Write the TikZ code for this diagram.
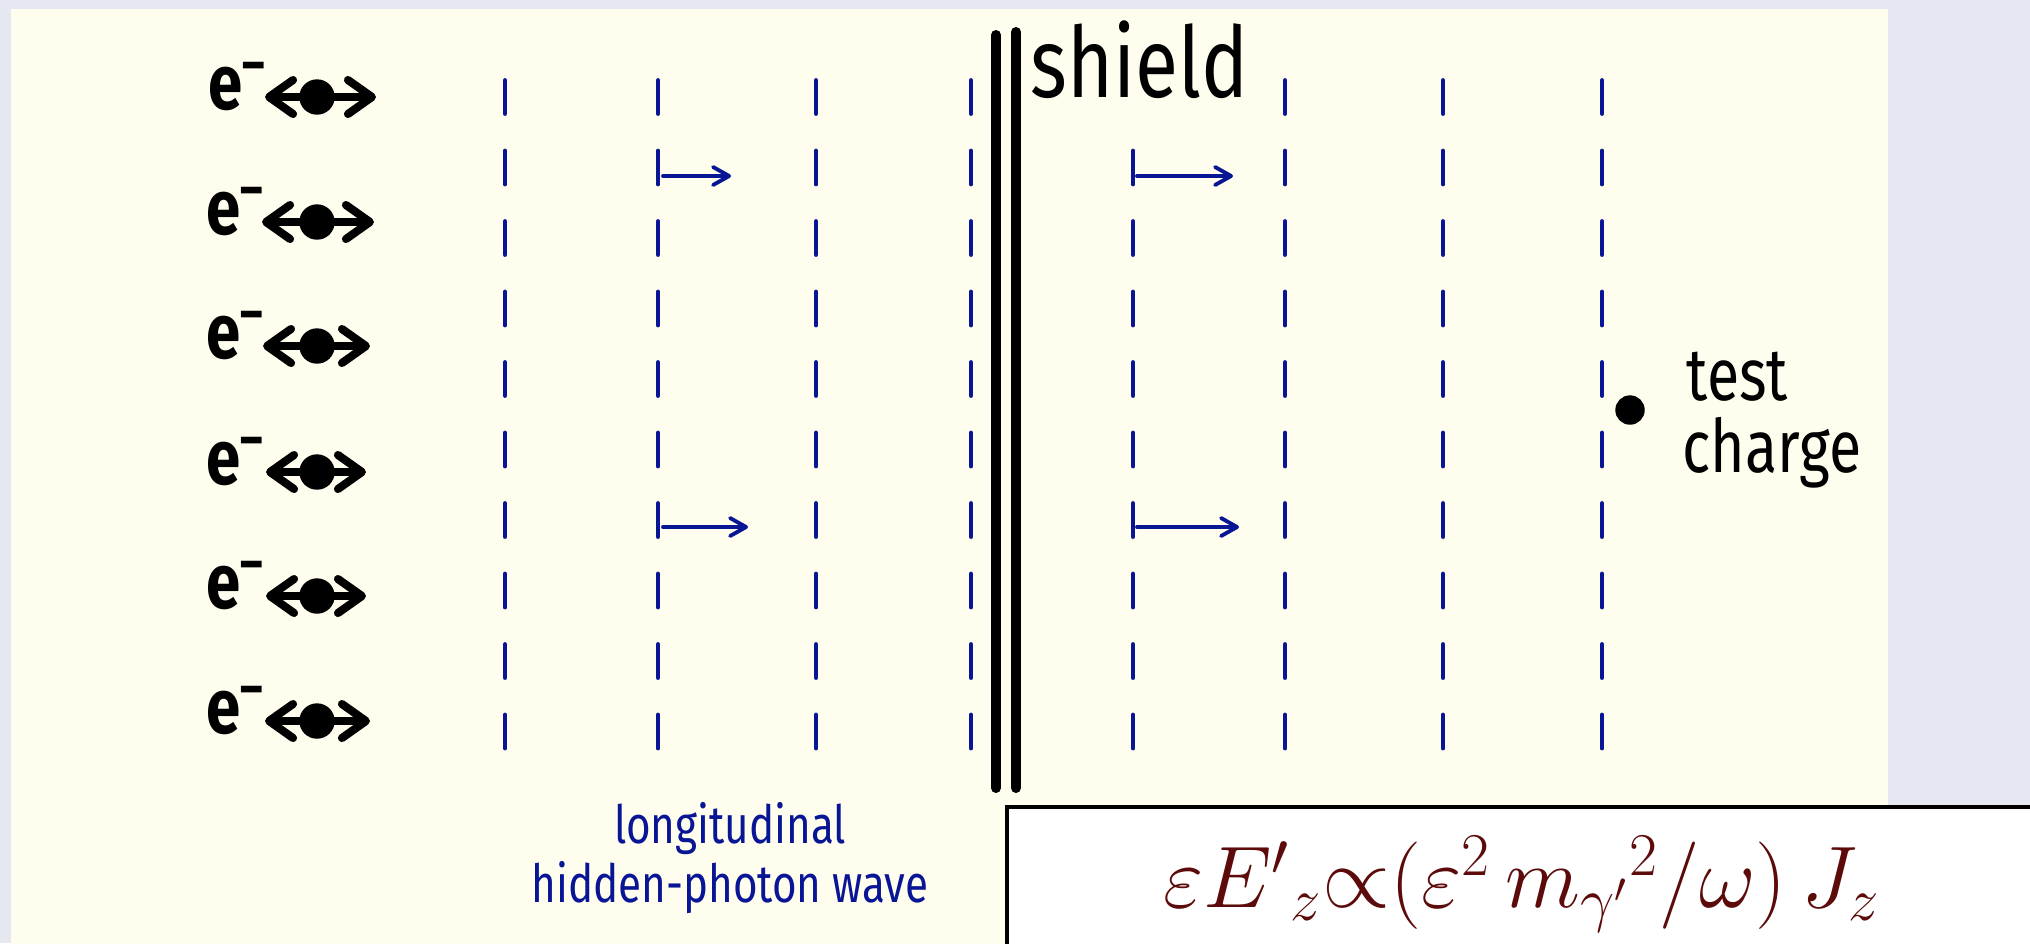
\documentclass[tikz,border=0pt]{standalone}
\usepackage{fontspec}
\newfontfamily\handfont[FakeStretch=0.8]{Fira Sans}
\usetikzlibrary{arrows.meta}

\definecolor{slidegrey}{RGB}{229,232,240}
\definecolor{paper}{RGB}{255,253,238}
\definecolor{inkblue}{RGB}{8,22,150}
\definecolor{lawred}{RGB}{92,10,10}

\begin{document}
\begin{tikzpicture}
\tikzstyle{every node}=[inner sep=0pt];
\tikzstyle{electron}=[draw, fill, shape=circle, minimum size=0.34cm];
\tikzstyle{elabel}=[anchor=base west, font=\fontsize{22}{24}\handfont\bfseries];
\tikzstyle{jiggle}=[line width=2.3pt, line cap=round, {Straight Barb[round,length=2.4mm,width=3.4mm]}-{Straight Barb[round,length=2.4mm,width=3.4mm]}];
\tikzstyle{wave}=[inkblue, line width=1.4pt, line cap=round, dash pattern=on 0.33cm off 0.375cm];
\tikzstyle{push}=[inkblue, line width=1.1pt, line cap=round, -{Straight Barb[round,length=1.6mm,width=1.8mm]}];
\tikzstyle{shieldwall}=[line width=2.85pt, line cap=round];
\tikzstyle{chargelabel}=[anchor=base west, font=\fontsize{21}{23}\handfont];

\clip (0,0) rectangle (20.30,-9.43);
\useasboundingbox (0,0) rectangle (20.30,-9.43);
\fill[slidegrey] (0,0) rectangle (20.30,-9.43);
\fill[paper] (0.11,-0.09) rectangle (18.88,-9.60);

% electrons
\draw (3.17,-0.97) node[electron] (e1) {};
\draw (3.17,-2.22) node[electron] (e2) {};
\draw (3.17,-3.46) node[electron] (e3) {};
\draw (3.17,-4.72) node[electron] (e4) {};
\draw (3.17,-5.96) node[electron] (e5) {};
\draw (3.17,-7.21) node[electron] (e6) {};

\coordinate (e1l) at (2.65,-0.97); \coordinate (e1r) at (3.76,-0.97);
\coordinate (e2l) at (2.62,-2.22); \coordinate (e2r) at (3.74,-2.22);
\coordinate (e3l) at (2.63,-3.46); \coordinate (e3r) at (3.70,-3.46);
\coordinate (e4l) at (2.66,-4.72); \coordinate (e4r) at (3.66,-4.72);
\coordinate (e5l) at (2.66,-5.96); \coordinate (e5r) at (3.66,-5.96);
\coordinate (e6l) at (2.65,-7.21); \coordinate (e6r) at (3.70,-7.21);

\draw[jiggle] (e1l) -- (e1r);
\draw[jiggle] (e2l) -- (e2r);
\draw[jiggle] (e3l) -- (e3r);
\draw[jiggle] (e4l) -- (e4r);
\draw[jiggle] (e5l) -- (e5r);
\draw[jiggle] (e6l) -- (e6r);

\node[elabel] (q1) at (2.08,-1.09) {e\textsuperscript{–}};
\node[elabel] (q2) at (2.06,-2.34) {e\textsuperscript{–}};
\node[elabel] (q3) at (2.06,-3.58) {e\textsuperscript{–}};
\node[elabel] (q4) at (2.06,-4.84) {e\textsuperscript{–}};
\node[elabel] (q5) at (2.06,-6.08) {e\textsuperscript{–}};
\node[elabel] (q6) at (2.06,-7.33) {e\textsuperscript{–}};

% hidden-photon wave fronts
\draw[wave] (5.05,-0.805) -- (5.05,-7.48);
\draw[wave] (6.58,-0.805) -- (6.58,-7.48);
\draw[wave] (8.16,-0.805) -- (8.16,-7.48);
\draw[wave] (9.71,-0.805) -- (9.71,-7.48);
\draw[wave] (11.33,-1.51) -- (11.33,-7.48);
\draw[wave] (12.85,-0.805) -- (12.85,-7.48);
\draw[wave] (14.43,-0.805) -- (14.43,-7.48);
\draw[wave] (16.02,-0.805) -- (16.02,-7.48);

\coordinate (p1) at (6.63,-1.76); \coordinate (p1t) at (7.31,-1.76);
\coordinate (p2) at (11.37,-1.76); \coordinate (p2t) at (12.33,-1.76);
\coordinate (p3) at (6.63,-5.27); \coordinate (p3t) at (7.48,-5.27);
\coordinate (p4) at (11.37,-5.27); \coordinate (p4t) at (12.39,-5.27);

\draw[push] (p1) -- (p1t);
\draw[push] (p2) -- (p2t);
\draw[push] (p3) -- (p3t);
\draw[push] (p4) -- (p4t);

% shield
\draw[shieldwall] (9.96,-0.35) -- (9.96,-7.88);
\draw[shieldwall] (10.16,-0.32) -- (10.16,-7.88);
\node[anchor=base west, font=\fontsize{28}{32}\handfont] (shieldlabel) at (10.30,-0.97) {shield};

% test charge
\draw (16.30,-4.10) node[electron, minimum size=0.28cm] (tc) {};
\node[chargelabel] (tclabel) at (16.86,-4.00) {test};
\node[chargelabel] (tclabel2) at (16.82,-4.72) {charge};

\node[inkblue, align=center, font=\fontsize{15}{17}\handfont] (wavelabel) at (7.30,-8.58) {longitudinal\\hidden-photon wave};

% formula box
\draw[fill=white, line width=1.15pt] (10.07,-8.07) rectangle (21.0,-9.80);
\node[lawred, anchor=base, font=\fontsize{24}{28}\selectfont] (law) at (15.22,-9.07) {$\varepsilon E'{}_{z}{\propto}(\varepsilon^{2}\, m_{\gamma'}{}^{2}/\omega)\, J_{z}$};

\end{tikzpicture}
\end{document}
